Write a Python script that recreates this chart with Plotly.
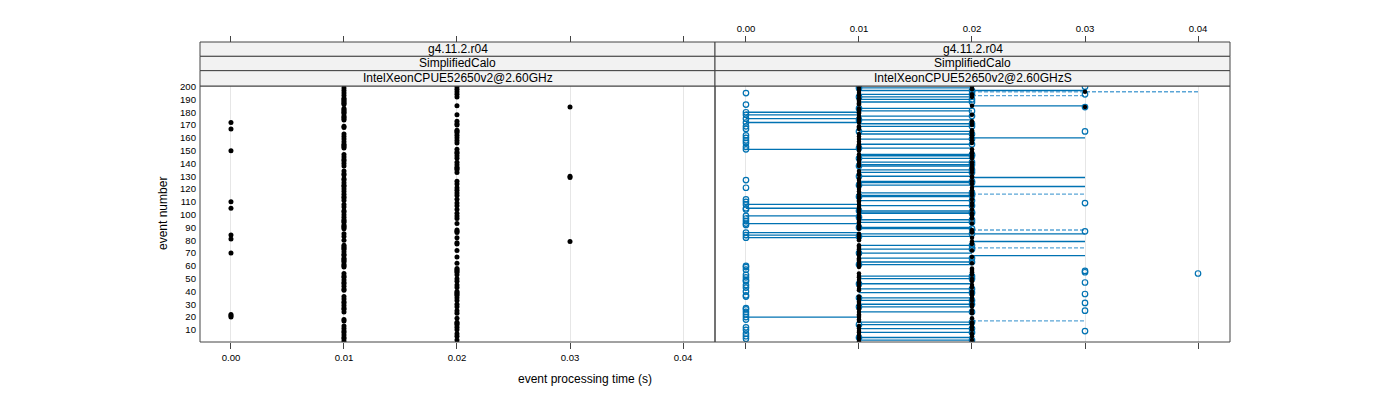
import plotly.graph_objects as go

# ---------------- data ----------------
EVENTS = list(range(1, 201))

# Left panel: event processing time (ms) for events 1..200
LEFT_MS = [
    10, 20, 10, 10, 20, 10, 20, 10, 10, 20,
    10, 20, 10, 20, 20, 20, 10, 10, 20, 0,
    0, 0, 20, 10, 20, 10, 10, 20, 10, 20,
    10, 10, 20, 10, 20, 10, 20, 20, 20, 20,
    10, 10, 20, 10, 20, 10, 10, 20, 10, 20,
    10, 10, 20, 10, 20, 20, 20, 20, 10, 10,
    10, 20, 10, 10, 10, 10, 20, 10, 10, 0,
    10, 20, 10, 10, 10, 10, 20, 20, 30, 10,
    0, 20, 10, 0, 10, 20, 20, 20, 10, 10,
    10, 10, 20, 10, 10, 10, 20, 10, 20, 10,
    20, 10, 10, 20, 0, 10, 20, 10, 20, 0,
    10, 20, 10, 10, 20, 10, 20, 10, 20, 10,
    20, 10, 10, 20, 10, 20, 10, 10, 30, 30,
    10, 10, 20, 10, 20, 20, 20, 10, 20, 10,
    20, 10, 10, 20, 10, 20, 10, 20, 20, 0,
    20, 10, 10, 10, 10, 20, 10, 20, 10, 20,
    10, 20, 10, 20, 20, 20, 0, 10, 10, 20,
    20, 0, 20, 10, 10, 10, 10, 20, 10, 10,
    10, 10, 10, 30, 20, 10, 10, 10, 10, 10,
    10, 20, 10, 20, 10, 20, 10, 20, 10, 20,
]

# Right panel: black points (ms) for events 1..200
RIGHT_BLACK_MS = [
    10, 20, 10, 10, 20, 10, 20, 10, 10, 20,
    10, 20, 10, 20, 20, 20, 10, 10, 20, 10,
    10, 10, 20, 10, 20, 10, 10, 20, 10, 20,
    10, 10, 20, 10, 20, 10, 20, 20, 20, 20,
    10, 10, 20, 10, 20, 10, 10, 20, 10, 20,
    10, 10, 20, 10, 20, 20, 20, 20, 10, 10,
    10, 20, 10, 10, 10, 10, 20, 10, 10, 10,
    10, 20, 10, 10, 10, 10, 20, 20, 20, 10,
    10, 20, 10, 10, 10, 20, 20, 20, 10, 10,
    10, 10, 20, 10, 10, 10, 20, 10, 20, 10,
    20, 10, 10, 20, 10, 10, 20, 10, 20, 10,
    10, 20, 10, 10, 20, 10, 20, 10, 20, 10,
    20, 10, 10, 20, 10, 20, 10, 10, 20, 20,
    10, 10, 20, 10, 20, 20, 20, 10, 20, 10,
    20, 10, 10, 20, 10, 20, 10, 20, 20, 10,
    20, 10, 10, 10, 10, 20, 10, 20, 10, 20,
    10, 20, 10, 20, 20, 20, 10, 10, 10, 20,
    20, 10, 20, 10, 10, 10, 10, 20, 10, 10,
    10, 10, 10, 30, 20, 10, 10, 10, 10, 10,
    10, 20, 10, 20, 10, 30, 10, 20, 10, 20,
]

# Right panel: blue open circles, events at each time value
BLUE_000_EVENTS = [195, 186, 180, 178, 175, 172, 169, 167, 162, 160, 158, 156, 153, 151,
                   127, 121, 112, 110, 108, 105, 104, 99, 97, 95, 93, 92, 86, 84, 82,
                   60, 59, 57, 53, 51, 49, 48, 45, 43, 40, 37, 36, 27, 26, 24, 22, 20,
                   18, 12, 10, 7, 5, 3]
BLUE_010_EVENTS = [199, 192, 183, 174, 165, 152, 144, 138, 130, 123, 114, 103, 98, 90,
                   83, 70, 61, 46, 35, 28, 14, 4]
BLUE_020_EVENTS = [197, 194, 190, 188, 181, 177, 171, 169, 163, 159, 155, 147, 146, 141,
                   139, 135, 133, 126, 125, 117, 115, 111, 107, 102, 101, 96, 94, 89,
                   85, 76, 73, 66, 63, 52, 50, 42, 39, 33, 30, 24, 16, 11, 8, 2]
BLUE_030_EVENTS = [200, 194, 184, 165, 109, 87, 56, 55, 47, 38, 31, 25, 9]
BLUE_040_EVENTS = [54]

# Right panel: connecting segments (events), grouped by span
SEG_000_010 = [180, 178, 175, 172, 151, 108, 105, 99, 93, 86, 84, 82, 20]
SEG_010_020 = [199, 197, 194, 192, 190, 188, 183, 181, 177, 174, 171, 169, 165, 163,
               159, 155, 152, 147, 146, 144, 141, 139, 138, 135, 133, 130, 126, 125,
               123, 117, 115, 114, 111, 107, 103, 102, 101, 96, 94, 90, 89, 85, 83,
               76, 73, 70, 66, 63, 61, 52, 50, 46, 42, 39, 35, 33, 30, 28, 24, 16,
               14, 11, 8, 4, 2]
SEG_010_020_DASH = [98]
SEG_020_030 = [197, 185, 160, 129, 122, 85, 79, 68]
SEG_020_030_DASH = [193, 116, 88, 74, 17]
SEG_020_040_DASH = [196]

X_TICKS = [0.0, 0.01, 0.02, 0.03, 0.04]
X_TICK_TEXT = ["0.00", "0.01", "0.02", "0.03", "0.04"]
Y_TICKS = list(range(10, 201, 10))

STRIP_LEFT = ["g4.11.2.r04", "SimplifiedCalo", "IntelXeonCPUE52650v2@2.60GHz"]
STRIP_RIGHT = ["g4.11.2.r04", "SimplifiedCalo", "IntelXeonCPUE52650v2@2.60GHzS"]

# ---------------- styling / geometry ----------------
W, H = 1400, 400
FONT = "Liberation Sans, Arial, Helvetica, sans-serif"
BLUE = "#0072B2"
BLUE_LIGHT = "#5aa5d6"
XR = [-0.00274, 0.04283]
YR = [0.5, 200.5]
PX_L = (200, 715)
PX_R = (715, 1230)
PY_TOP, PY_BOT = 86, 342


def px(v):
    return v / W


def py(v):
    return 1 - v / H


def ms(v):
    return v / 1000.0


def seg_xy(events, t0, t1):
    xs, ys = [], []
    for e in events:
        xs += [ms(t0), ms(t1), None]
        ys += [e, e, None]
    return xs, ys


fig = go.Figure()

# left panel points
fig.add_trace(go.Scatter(x=[ms(v) for v in LEFT_MS], y=EVENTS, mode="markers",
                         marker=dict(color="black", size=5, line=dict(width=0)),
                         xaxis="x", yaxis="y", showlegend=False, hoverinfo="skip"))

# right panel segments
seg_groups = [
    (SEG_000_010, 0, 10, "solid", BLUE),
    (SEG_010_020, 10, 20, "solid", BLUE),
    (SEG_010_020_DASH, 10, 20, "4px,2px", "#ffffff"),
    (SEG_020_030, 20, 30, "solid", BLUE),
    (SEG_020_030_DASH, 20, 30, "4px,2px", BLUE_LIGHT),
    (SEG_020_040_DASH, 20, 40, "4px,2px", BLUE_LIGHT),
]
for evs, t0, t1, dash, col in seg_groups:
    xs, ys = seg_xy(evs, t0, t1)
    fig.add_trace(go.Scatter(x=xs, y=ys, mode="lines",
                             line=dict(color=col, width=1.3, dash=dash),
                             xaxis="x2", yaxis="y2", showlegend=False, hoverinfo="skip"))

# right panel blue circles
for evs, t in [(BLUE_000_EVENTS, 0), (BLUE_010_EVENTS, 10), (BLUE_020_EVENTS, 20),
               (BLUE_030_EVENTS, 30), (BLUE_040_EVENTS, 40)]:
    fig.add_trace(go.Scatter(x=[ms(t)] * len(evs), y=evs, mode="markers",
                             marker=dict(symbol="circle-open", color=BLUE, size=5.5,
                                         line=dict(width=1.2, color=BLUE)),
                             xaxis="x2", yaxis="y2", showlegend=False, hoverinfo="skip"))

# right panel black points
fig.add_trace(go.Scatter(x=[ms(v) for v in RIGHT_BLACK_MS], y=EVENTS, mode="markers",
                         marker=dict(color="black", size=4.5, line=dict(width=0)),
                         xaxis="x2", yaxis="y2", showlegend=False, hoverinfo="skip"))

# invisible traces to activate top axes
fig.add_trace(go.Scatter(x=[None], y=[None], xaxis="x3", yaxis="y", showlegend=False))
fig.add_trace(go.Scatter(x=[None], y=[None], xaxis="x4", yaxis="y2", showlegend=False))

tickfont = dict(family=FONT, size=9.6, color="black")
common_x = dict(range=XR, tickvals=X_TICKS, ticktext=X_TICK_TEXT, ticks="outside",
                ticklen=6, tickcolor="#444", tickwidth=1, zeroline=False,
                showline=False, tickfont=tickfont, fixedrange=True, automargin=False)

fig.update_layout(
    width=W, height=H, margin=dict(l=0, r=0, t=0, b=0, pad=0, autoexpand=False),
    paper_bgcolor="white", plot_bgcolor="white",
    font=dict(family=FONT, size=12, color="black"),
    xaxis=dict(domain=[px(PX_L[0]), px(PX_L[1])], anchor="y",
               showgrid=True, gridcolor="#e6e6e6", gridwidth=1, **common_x),
    xaxis2=dict(domain=[px(PX_R[0]), px(PX_R[1])], anchor="y2", showticklabels=False,
                showgrid=True, gridcolor="#e6e6e6", gridwidth=1, **common_x),
    xaxis3=dict(overlaying="x", side="top", anchor="free", position=py(42),
                showticklabels=False, showgrid=False, **common_x),
    xaxis4=dict(overlaying="x2", side="top", anchor="free", position=py(42),
                showticklabels=True, showgrid=False, **common_x),
    yaxis=dict(domain=[py(PY_BOT), py(PY_TOP)], anchor="x", range=YR,
               tickvals=Y_TICKS, ticks="", showgrid=False, zeroline=False, automargin=False,
               showline=False, tickfont=tickfont, ticklabelstandoff=3, fixedrange=True),
    yaxis2=dict(domain=[py(PY_BOT), py(PY_TOP)], anchor="x2", range=YR, automargin=False,
                tickvals=Y_TICKS, ticks="", showticklabels=False, showgrid=False,
                zeroline=False, showline=False, fixedrange=True),
)

shapes = []
annotations = []
strip_edges = [42, 56.33, 70.67, PY_TOP]
for (x0, x1), labels in [(PX_L, STRIP_LEFT), (PX_R, STRIP_RIGHT)]:
    # panel border
    shapes.append(dict(type="rect", xref="paper", yref="paper",
                       x0=px(x0), x1=px(x1), y0=py(PY_BOT), y1=py(PY_TOP),
                       line=dict(color="#444", width=1), fillcolor="rgba(0,0,0,0)",
                       layer="above"))
    for i, lab in enumerate(labels):
        shapes.append(dict(type="rect", xref="paper", yref="paper",
                           x0=px(x0), x1=px(x1), y0=py(strip_edges[i + 1]), y1=py(strip_edges[i]),
                           line=dict(color="#444", width=1), fillcolor="#f2f2f2",
                           layer="above"))
        annotations.append(dict(xref="paper", yref="paper", x=px((x0 + x1) / 2),
                                y=py((strip_edges[i] + strip_edges[i + 1]) / 2),
                                text=lab, showarrow=False, xanchor="center", yanchor="middle",
                                font=dict(family=FONT, size=12, color="black")))

annotations.append(dict(xref="paper", yref="paper", x=px(585), y=py(379),
                        text="event processing time (s)", showarrow=False,
                        xanchor="center", yanchor="middle",
                        font=dict(family=FONT, size=12, color="black")))
annotations.append(dict(xref="paper", yref="paper", x=px(163), y=py(214),
                        text="event number", showarrow=False, textangle=-90,
                        xanchor="center", yanchor="middle",
                        font=dict(family=FONT, size=12, color="black")))

fig.update_layout(shapes=shapes, annotations=annotations)

fig.write_html("out.html", config={"displayModeBar": False},
               post_script="document.body.style.margin='0';")
